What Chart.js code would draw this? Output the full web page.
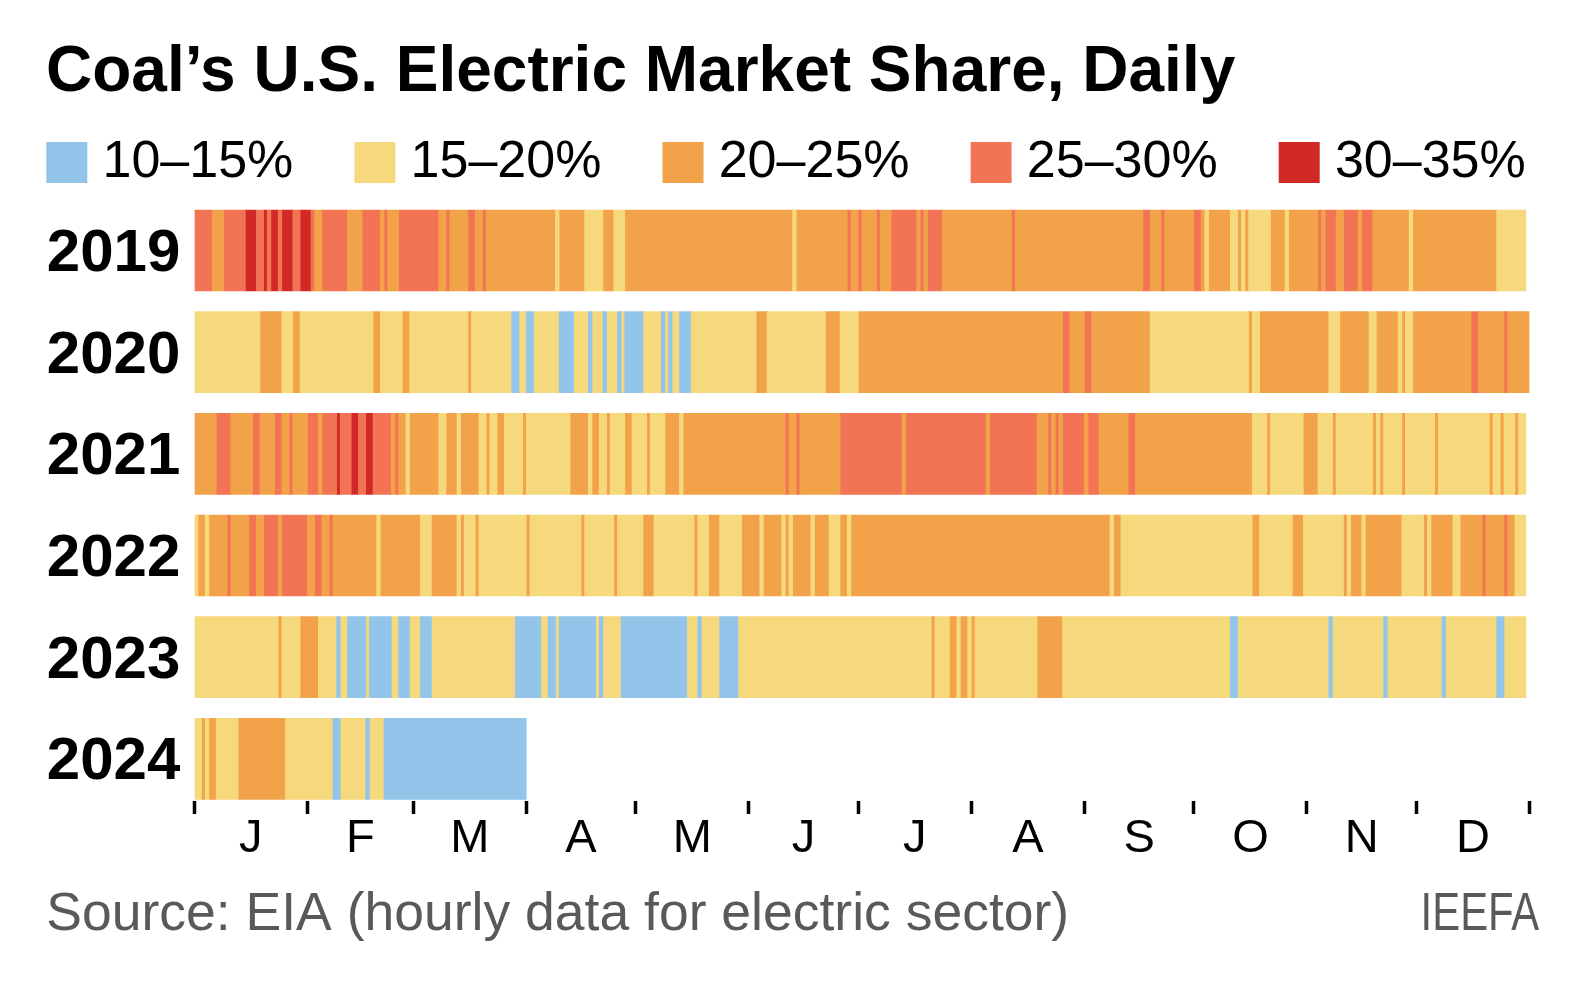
<!DOCTYPE html>
<html>
<head>
<meta charset="utf-8">
<script src="https://cdn.jsdelivr.net/npm/chart.js@4.4.1/dist/chart.umd.min.js"></script>
<style>
  html, body { margin: 0; padding: 0; background: #ffffff; }
  #wrap { width: 1583px; height: 983px; position: relative; }
</style>
</head>
<body>
<div id="wrap"><canvas id="chart"></canvas></div>
<script>
const titleText = 'Coal’s U.S. Electric Market Share, Daily';
const sourceText = 'Source: EIA (hourly data for electric sector)';
const creditText = 'IEEFA';

const years = ['2019', '2020', '2021', '2022', '2023', '2024'];
const bins = ['10–15%', '15–20%', '20–25%', '25–30%', '30–35%'];
const months = ['J', 'F', 'M', 'A', 'M', 'J', 'J', 'A', 'S', 'O', 'N', 'D'];
const monthStarts = [0, 31, 60, 91, 121, 152, 182, 213, 244, 274, 305, 335, 366];

// Runs of consecutive days: [bin index (0 = 10–15% ... 4 = 30–35%), number of days]
const runs2019 = [[3,5],[2,3],[3,6],[4,3],[3,2],[4,1],[3,1],[4,2],[3,1],[4,3],[3,2],[4,3],[3,1],[2,2],[3,7],[2,4],[3,5],[2,1],[3,1],[2,3],[3,11],[2,2],[3,1],[2,5],[3,2],[2,2],[3,1],[2,19],[1,1],[2,7],[1,5],[2,3],[1,3],[2,46],[1,1],[2,14],[3,1],[2,2],[3,1],[2,4],[3,1],[2,3],[3,7],[2,1],[3,1],[2,1],[3,4],[2,19],[3,1],[2,35],[3,2],[2,3],[3,1],[2,8],[3,2],[2,1],[1,1],[2,6],[1,2],[2,1],[1,1],[2,1],[1,6],[2,4],[1,1],[2,8],[3,1],[2,1],[3,3],[2,2],[3,4],[2,1],[3,3],[2,10],[1,1],[2,23],[1,8]];
const runs2020 = [[1,18],[2,6],[1,3],[2,2],[1,20],[2,2],[1,6],[2,2],[1,16],[2,1],[1,11],[0,2],[1,2],[0,2],[1,7],[0,4],[1,4],[0,1],[1,3],[0,1],[1,3],[0,1],[1,1],[0,5],[1,5],[0,1],[1,1],[0,1],[1,2],[0,3],[1,18],[2,3],[1,16],[2,4],[1,5],[2,56],[3,2],[2,4],[3,2],[2,16],[1,27],[2,1],[1,2],[2,19],[1,3],[2,8],[1,2],[2,6],[1,1],[2,1],[1,2],[2,16],[3,2],[2,7],[3,1],[2,6]];
const runs2021 = [[2,6],[3,4],[2,6],[3,2],[2,4],[3,2],[2,2],[3,1],[2,4],[3,3],[2,1],[3,4],[4,1],[3,3],[4,2],[3,2],[4,2],[3,5],[2,1],[3,1],[2,2],[1,1],[2,8],[1,2],[2,3],[1,1],[2,5],[1,2],[2,1],[1,2],[2,2],[1,5],[2,1],[1,12],[2,5],[1,1],[2,2],[1,2],[2,1],[1,4],[2,2],[1,4],[2,1],[1,4],[2,4],[1,1],[2,28],[3,1],[2,2],[3,1],[2,11],[3,17],[2,1],[3,22],[2,1],[3,13],[2,3],[3,1],[2,1],[3,1],[2,1],[3,6],[2,1],[3,3],[2,8],[3,2],[2,32],[1,4],[2,1],[1,9],[2,4],[1,4],[2,1],[1,10],[2,1],[1,1],[2,1],[1,5],[2,1],[1,8],[2,1],[1,14],[2,1],[1,2],[2,1],[1,3],[2,1],[1,2]];
const runs2022 = [[1,1],[2,2],[1,1],[2,5],[3,1],[2,5],[3,2],[2,2],[3,4],[2,1],[3,7],[2,2],[3,2],[2,2],[3,1],[2,12],[1,1],[2,11],[1,3],[2,7],[1,1],[2,1],[1,3],[2,1],[1,13],[2,1],[1,14],[2,1],[1,8],[2,1],[1,7],[2,3],[1,11],[2,1],[1,3],[2,3],[1,6],[2,5],[1,1],[2,5],[1,1],[2,1],[1,1],[2,5],[1,1],[2,4],[1,3],[2,2],[1,1],[2,71],[1,1],[2,2],[1,36],[2,2],[1,9],[2,3],[1,11],[2,1],[1,1],[2,3],[1,1],[2,10],[1,6],[2,1],[1,1],[2,6],[1,2],[2,6],[3,1],[2,5],[3,1],[2,2],[1,3]];
const runs2023 = [[1,23],[2,1],[1,5],[2,5],[1,5],[0,1],[1,2],[0,5],[1,1],[0,6],[1,2],[0,3],[1,3],[0,3],[1,23],[0,7],[1,2],[0,2],[1,1],[0,10],[1,1],[0,1],[1,5],[0,18],[1,3],[0,1],[1,5],[0,5],[1,53],[2,1],[1,4],[2,2],[1,1],[2,2],[1,1],[2,1],[1,17],[2,7],[1,46],[0,2],[1,25],[0,1],[1,14],[0,1],[1,15],[0,1],[1,14],[0,2],[1,6]];
const runs2024 = [[1,2],[2,1],[1,1],[2,2],[1,6],[2,13],[1,13],[0,2],[1,7],[0,1],[1,4],[0,39]];

const runsByYear = [runs2019, runs2020, runs2021, runs2022, runs2023, runs2024];
const binColors = ['#93c4ea', '#f7d97d', '#f2a34a', '#f37454', '#d12a26'];

const datasets = bins.map((label, b) => ({
  label: label,
  backgroundColor: binColors[b],
  borderWidth: 0,
  grouped: false,
  barThickness: 81,
  data: []
}));
runsByYear.forEach((runs, row) => {
  let day = 0;
  runs.forEach(([b, n]) => {
    datasets[b].data.push({ x: [day, day + n], y: row });
    day += n;
  });
});

const monthMids = months.map((m, i) => (monthStarts[i] + monthStarts[i + 1]) / 2);

const extrasPlugin = {
  id: 'extras',
  afterDraw(chart) {
    const ctx = chart.ctx;
    ctx.save();
    // legend
    ctx.font = '52px "Liberation Sans"';
    ctx.textBaseline = 'middle';
    ctx.textAlign = 'left';
    chart.data.datasets.forEach((ds, i) => {
      const x = 46.3 + i * 308.1;
      ctx.fillStyle = ds.backgroundColor;
      ctx.fillRect(x, 142, 41, 41);
      ctx.fillStyle = '#000000';
      ctx.fillText(ds.label, x + 56.2, 163);
    });
    // source
    ctx.textBaseline = 'alphabetic';
    ctx.fillStyle = '#58595b';
    ctx.font = '53.5px "Liberation Sans"';
    ctx.fillText(sourceText, 46.3, 930);
    // credit
    ctx.font = '53px "Liberation Sans"';
    const w = ctx.measureText(creditText).width;
    ctx.translate(1539.2, 930);
    ctx.scale(118.6 / w, 1);
    ctx.textAlign = 'right';
    ctx.fillStyle = '#58595b';
    ctx.fillText(creditText, 0, 0);
    ctx.restore();
  }
};

Chart.defaults.font.family = '"Liberation Sans", Arial, sans-serif';
Chart.defaults.color = '#000000';

new Chart(document.getElementById('chart'), {
  type: 'bar',
  data: { datasets: datasets },
  plugins: [extrasPlugin],
  options: {
    indexAxis: 'y',
    responsive: true,
    maintainAspectRatio: false,
    animation: false,
    layout: { padding: { left: 46, right: 53.5, top: 0, bottom: 0 } },
    plugins: {
      legend: { display: false },
      tooltip: { enabled: false },
      title: {
        display: true,
        text: titleText,
        align: 'start',
        color: '#000000',
        font: { size: 64, weight: 'bold', lineHeight: 1 },
        padding: { top: 41.5, bottom: 94.2 }
      }
    },
    scales: {
      x: {
        type: 'linear',
        min: 0,
        max: 366,
        offset: false,
        border: { display: false },
        grid: {
          display: true,
          offset: false,
          drawOnChartArea: false,
          drawTicks: true,
          tickLength: 13,
          tickWidth: 3.5,
          tickColor: (c) => (c.tick && monthStarts.includes(c.tick.value)) ? '#000000' : 'rgba(0,0,0,0)'
        },
        afterBuildTicks: (scale) => {
          const vals = monthStarts.concat(monthMids).sort((a, b) => a - b);
          scale.ticks = vals.map(v => ({ value: v }));
        },
        afterFit: (scale) => { scale.height = 182; },
        ticks: {
          autoSkip: false,
          maxRotation: 0,
          padding: 2,
          color: '#000000',
          font: { size: 47, lineHeight: 1 },
          callback: (v) => { const i = monthMids.indexOf(v); return i >= 0 ? months[i] : ''; }
        }
      },
      y: {
        type: 'linear',
        reverse: true,
        offset: false,
        min: -0.5,
        max: 5.415,
        border: { display: false },
        grid: { display: false, drawTicks: false, offset: false },
        afterBuildTicks: (scale) => { scale.ticks = years.map((y, i) => ({ value: i })); },
        afterFit: (scale) => { scale.width = 148.3; },
        ticks: {
          autoSkip: false,
          padding: 14,
          labelOffset: 4,
          color: '#000000',
          font: { size: 60, weight: 'bold' },
          callback: (v) => years[v] !== undefined ? years[v] : ''
        }
      }
    }
  }
});
</script>
</body>
</html>
